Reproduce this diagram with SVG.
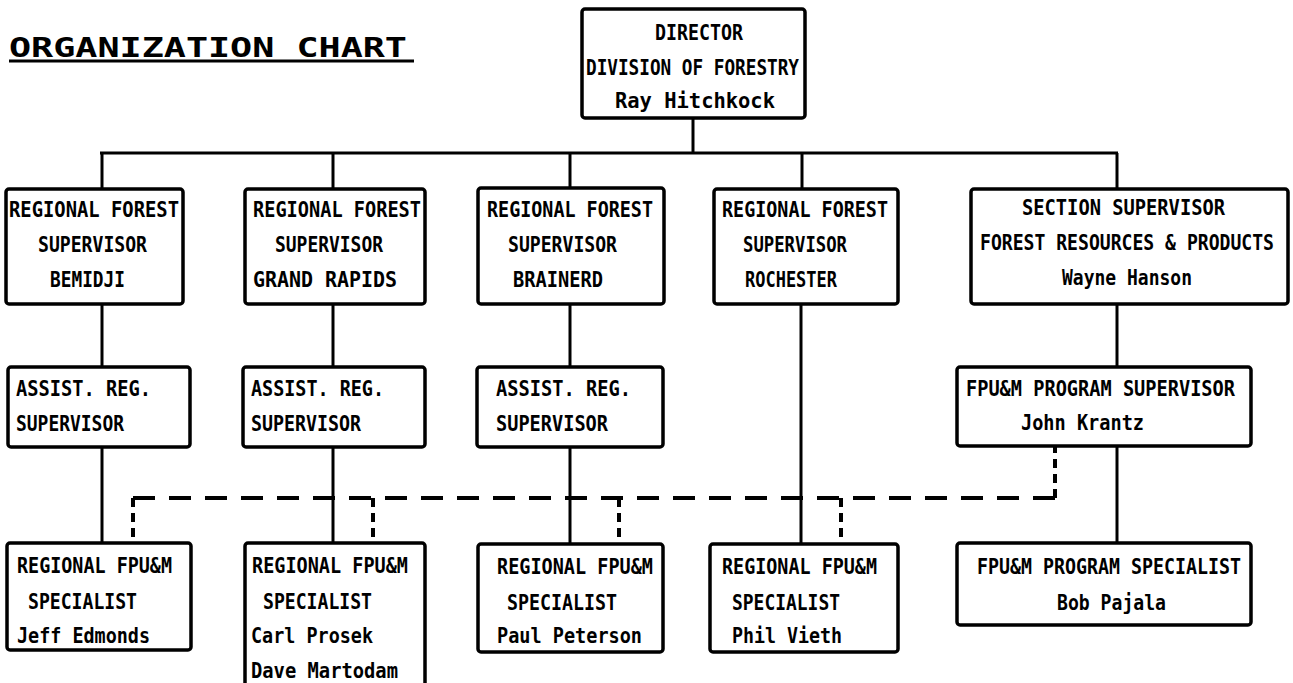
<svg xmlns="http://www.w3.org/2000/svg" width="1293" height="683" viewBox="0 0 1293 683">
<style>
.box{fill:#fff;stroke:#000;stroke-width:3.5}
.ln{stroke:#000;stroke-width:3;fill:none}
.dash{stroke:#000;stroke-width:4;fill:none;stroke-dasharray:22 14}
.dv{stroke:#000;stroke-width:4;fill:none;stroke-dasharray:9 6}
text{font-family:"DejaVu Sans Mono","Liberation Mono",monospace;font-size:21px;font-weight:bold;fill:#000}
.title{font-size:27px}
</style>
<rect width="1293" height="683" fill="#fff"/>
<g id="title">
<text class="title" x="9" y="57" textLength="398" lengthAdjust="spacingAndGlyphs">ORGANIZATION CHART</text>
<line x1="9" y1="61" x2="414" y2="61" class="ln"/>
</g>
<g id="connectors">
<line class="ln" x1="693" y1="118" x2="693" y2="153"/>
<line class="ln" x1="100" y1="153" x2="1118" y2="153"/>
<line class="ln" x1="102" y1="153" x2="102" y2="189"/>
<line class="ln" x1="333" y1="153" x2="333" y2="189"/>
<line class="ln" x1="570" y1="153" x2="570" y2="188"/>
<line class="ln" x1="802" y1="153" x2="802" y2="189"/>
<line class="ln" x1="1117" y1="153" x2="1117" y2="189"/>
<line class="ln" x1="102" y1="304" x2="102" y2="367"/>
<line class="ln" x1="333" y1="304" x2="333" y2="367"/>
<line class="ln" x1="570" y1="304" x2="570" y2="367"/>
<line class="ln" x1="1117" y1="304" x2="1117" y2="367"/>
<line class="ln" x1="801" y1="304" x2="801" y2="544"/>
<line class="ln" x1="102" y1="447" x2="102" y2="543"/>
<line class="ln" x1="333" y1="447" x2="333" y2="543"/>
<line class="ln" x1="570" y1="447" x2="570" y2="544"/>
<line class="ln" x1="1117" y1="446" x2="1117" y2="543"/>
<path class="dash" d="M133,498 H1055"/>
<path class="dv" d="M133,498 V543"/>
<path class="dv" d="M373,498 V543"/>
<path class="dv" d="M619,498 V543"/>
<path class="dv" d="M841,498 V543"/>
<path class="dv" d="M1055,498 V446"/>
</g>
<g id="director">
<rect class="box" x="582" y="9" width="223" height="109" rx="3"/>
<text x="655" y="40" textLength="88" lengthAdjust="spacingAndGlyphs">DIRECTOR</text>
<text x="586" y="75" textLength="213" lengthAdjust="spacingAndGlyphs">DIVISION OF FORESTRY</text>
<text x="615" y="108" textLength="160" lengthAdjust="spacingAndGlyphs">Ray Hitchkock</text>
</g>
<g id="rfs-bemidji">
<rect class="box" x="6" y="189" width="177" height="115" rx="3"/>
<text x="9" y="217" textLength="170" lengthAdjust="spacingAndGlyphs">REGIONAL FOREST</text>
<text x="38" y="252" textLength="109" lengthAdjust="spacingAndGlyphs">SUPERVISOR</text>
<text x="50" y="287" textLength="75" lengthAdjust="spacingAndGlyphs">BEMIDJI</text>
</g>
<g id="rfs-grandrapids">
<rect class="box" x="245" y="189" width="180" height="115" rx="3"/>
<text x="253" y="217" textLength="168" lengthAdjust="spacingAndGlyphs">REGIONAL FOREST</text>
<text x="275" y="252" textLength="108" lengthAdjust="spacingAndGlyphs">SUPERVISOR</text>
<text x="253" y="287" textLength="144" lengthAdjust="spacingAndGlyphs">GRAND RAPIDS</text>
</g>
<g id="rfs-brainerd">
<rect class="box" x="478" y="188" width="186" height="116" rx="3"/>
<text x="487" y="217" textLength="166" lengthAdjust="spacingAndGlyphs">REGIONAL FOREST</text>
<text x="508" y="252" textLength="109" lengthAdjust="spacingAndGlyphs">SUPERVISOR</text>
<text x="513" y="287" textLength="90" lengthAdjust="spacingAndGlyphs">BRAINERD</text>
</g>
<g id="rfs-rochester">
<rect class="box" x="714" y="189" width="184" height="115" rx="3"/>
<text x="722" y="217" textLength="166" lengthAdjust="spacingAndGlyphs">REGIONAL FOREST</text>
<text x="743" y="252" textLength="104" lengthAdjust="spacingAndGlyphs">SUPERVISOR</text>
<text x="745" y="287" textLength="92" lengthAdjust="spacingAndGlyphs">ROCHESTER</text>
</g>
<g id="section-supervisor">
<rect class="box" x="971" y="189" width="317" height="115" rx="3"/>
<text x="1022" y="215" textLength="203" lengthAdjust="spacingAndGlyphs">SECTION SUPERVISOR</text>
<text x="980" y="250" textLength="294" lengthAdjust="spacingAndGlyphs">FOREST RESOURCES &amp; PRODUCTS</text>
<text x="1062" y="285" textLength="130" lengthAdjust="spacingAndGlyphs">Wayne Hanson</text>
</g>
<g id="asst-1">
<rect class="box" x="8" y="367" width="182" height="80" rx="3"/>
<text x="16" y="396" textLength="135" lengthAdjust="spacingAndGlyphs">ASSIST. REG.</text>
<text x="16" y="431" textLength="108" lengthAdjust="spacingAndGlyphs">SUPERVISOR</text>
</g>
<g id="asst-2">
<rect class="box" x="243" y="367" width="182" height="80" rx="3"/>
<text x="251" y="396" textLength="133" lengthAdjust="spacingAndGlyphs">ASSIST. REG.</text>
<text x="251" y="431" textLength="110" lengthAdjust="spacingAndGlyphs">SUPERVISOR</text>
</g>
<g id="asst-3">
<rect class="box" x="477" y="367" width="186" height="80" rx="3"/>
<text x="496" y="396" textLength="135" lengthAdjust="spacingAndGlyphs">ASSIST. REG.</text>
<text x="496" y="431" textLength="112" lengthAdjust="spacingAndGlyphs">SUPERVISOR</text>
</g>
<g id="program-supervisor">
<rect class="box" x="957" y="367" width="294" height="79" rx="3"/>
<text x="966" y="396" textLength="269" lengthAdjust="spacingAndGlyphs">FPU&amp;M PROGRAM SUPERVISOR</text>
<text x="1021" y="430" textLength="123" lengthAdjust="spacingAndGlyphs">John Krantz</text>
</g>
<g id="spec-1">
<rect class="box" x="7" y="543" width="184" height="107" rx="3"/>
<text x="17" y="573" textLength="155" lengthAdjust="spacingAndGlyphs">REGIONAL FPU&amp;M</text>
<text x="28" y="609" textLength="109" lengthAdjust="spacingAndGlyphs">SPECIALIST</text>
<text x="17" y="643" textLength="133" lengthAdjust="spacingAndGlyphs">Jeff Edmonds</text>
</g>
<g id="spec-2">
<rect class="box" x="245" y="543" width="180" height="150" rx="3"/>
<text x="252" y="573" textLength="156" lengthAdjust="spacingAndGlyphs">REGIONAL FPU&amp;M</text>
<text x="263" y="609" textLength="109" lengthAdjust="spacingAndGlyphs">SPECIALIST</text>
<text x="251" y="643" textLength="122" lengthAdjust="spacingAndGlyphs">Carl Prosek</text>
<text x="251" y="678" textLength="147" lengthAdjust="spacingAndGlyphs">Dave Martodam</text>
</g>
<g id="spec-3">
<rect class="box" x="478" y="544" width="185" height="108" rx="3"/>
<text x="497" y="574" textLength="156" lengthAdjust="spacingAndGlyphs">REGIONAL FPU&amp;M</text>
<text x="507" y="610" textLength="110" lengthAdjust="spacingAndGlyphs">SPECIALIST</text>
<text x="497" y="643" textLength="145" lengthAdjust="spacingAndGlyphs">Paul Peterson</text>
</g>
<g id="spec-4">
<rect class="box" x="710" y="544" width="188" height="108" rx="3"/>
<text x="722" y="574" textLength="155" lengthAdjust="spacingAndGlyphs">REGIONAL FPU&amp;M</text>
<text x="732" y="610" textLength="108" lengthAdjust="spacingAndGlyphs">SPECIALIST</text>
<text x="732" y="643" textLength="110" lengthAdjust="spacingAndGlyphs">Phil Vieth</text>
</g>
<g id="program-specialist">
<rect class="box" x="957" y="543" width="294" height="82" rx="3"/>
<text x="977" y="574" textLength="264" lengthAdjust="spacingAndGlyphs">FPU&amp;M PROGRAM SPECIALIST</text>
<text x="1057" y="610" textLength="109" lengthAdjust="spacingAndGlyphs">Bob Pajala</text>
</g>
</svg>
